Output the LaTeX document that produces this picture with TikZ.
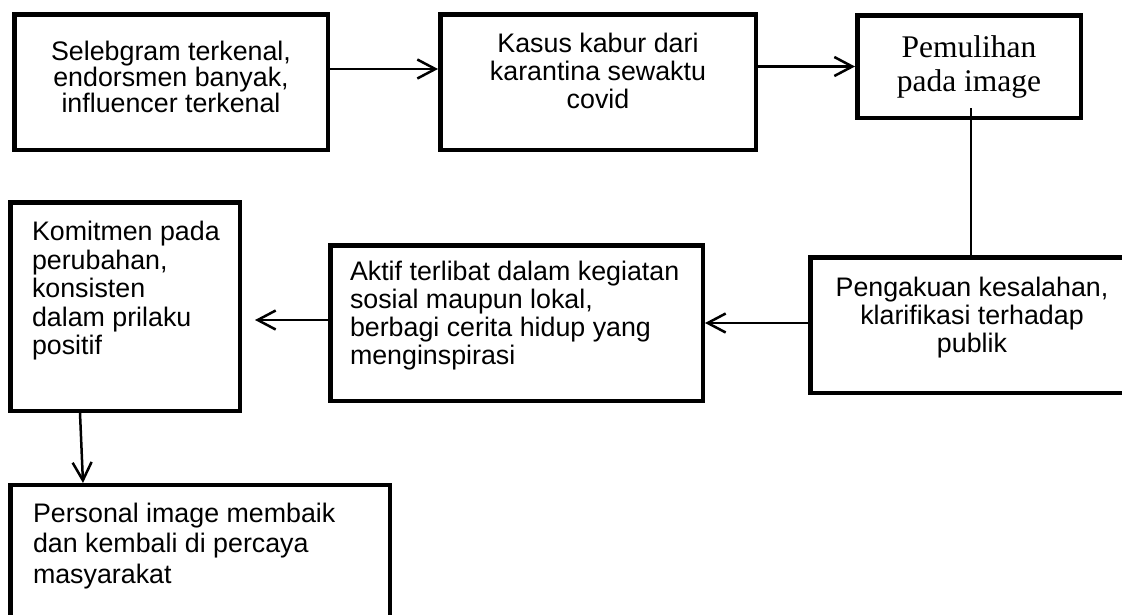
\documentclass[tikz,border=0pt]{standalone}
\usepackage{fontspec}
\setmainfont{Liberation Sans}
\newfontfamily\tnr{Liberation Serif}
\usetikzlibrary{arrows.meta}
\begin{document}
\begin{tikzpicture}[x=1pt,y=-1pt,
  box/.style={draw, line width=4.5pt, inner sep=0pt, fill=white},
  conn/.style={line width=2.5pt},
  arr/.style={conn, -{Straight Barb[length=18pt,width=19pt]}}]
\clip (0,0) rectangle (1122,614);
\fill[white] (0,0) rectangle (1122,614);
% boxes
\node[box] (b1) at (171,82) {\parbox[c][135.5pt][t]{313.5pt}{\fontsize{26.8}{26}\selectfont\vspace*{26.5pt}\centering Selebgram terkenal,\\ endorsmen banyak,\\ influencer terkenal}};
\node[box] (b2) at (598,82) {\parbox[c][135.5pt][t]{315.5pt}{\fontsize{26.8}{28}\selectfont\vspace*{18.5pt}\centering Kasus kabur dari\\ karantina sewaktu\\ covid}};
\node[box] (b3) at (969,66.5) {\parbox[c][102.5pt][t]{223.5pt}{\tnr\fontsize{31.5}{34}\selectfont\vspace*{20.5pt}\centering Pemulihan\\ pada image}};
\node[box] (b4) at (972,325) {\parbox[c][135.5pt][t]{323.5pt}{\fontsize{26.8}{28}\selectfont\vspace*{19.5pt}\centering Pengakuan kesalahan,\\ klarifikasi terhadap\\ publik}};
\node[box] (b5) at (516.5,323) {\parbox[c][155.5pt][t]{372.5pt}{\fontsize{26.8}{28}\selectfont\vspace*{16.25pt}\raggedright\leftskip=19.75pt Aktif terlibat dalam kegiatan\\ sosial maupun lokal,\\ berbagi cerita hidup yang\\ menginspirasi}};
\node[box] (b6) at (125,306.5) {\parbox[c][208.5pt][t]{229.5pt}{\fontsize{26.8}{28.5}\selectfont\vspace*{19.25pt}\raggedright\leftskip=21.75pt Komitmen pada\\ perubahan,\\ konsisten\\ dalam prilaku\\ positif}};
\node[box] (b7) at (200,562.6) {\parbox[c][154.75pt][t]{379.5pt}{\fontsize{26.8}{30.5}\selectfont\vspace*{17.5pt}\raggedright\leftskip=22.75pt Personal image membaik\\ dan kembali di percaya\\ masyarakat}};
% connectors
\coordinate (c3) at (971,108);
\coordinate (e5) at (255,320);
\draw[arr] ([yshift=13pt]b1.east) -- ([yshift=13pt]b2.west);
\draw[arr] (b2.east |- b3.west) -- (b3.west);
\draw[conn] (c3) -- (c3 |- b4.north);
\draw[arr] (b4.west |- b5.east) -- (b5.east);
\draw[arr] (b5.west |- e5) -- (e5);
\draw[arr] ([xshift=-45pt]b6.south) -- ([xshift=-117pt]b7.north);
\end{tikzpicture}
\end{document}
